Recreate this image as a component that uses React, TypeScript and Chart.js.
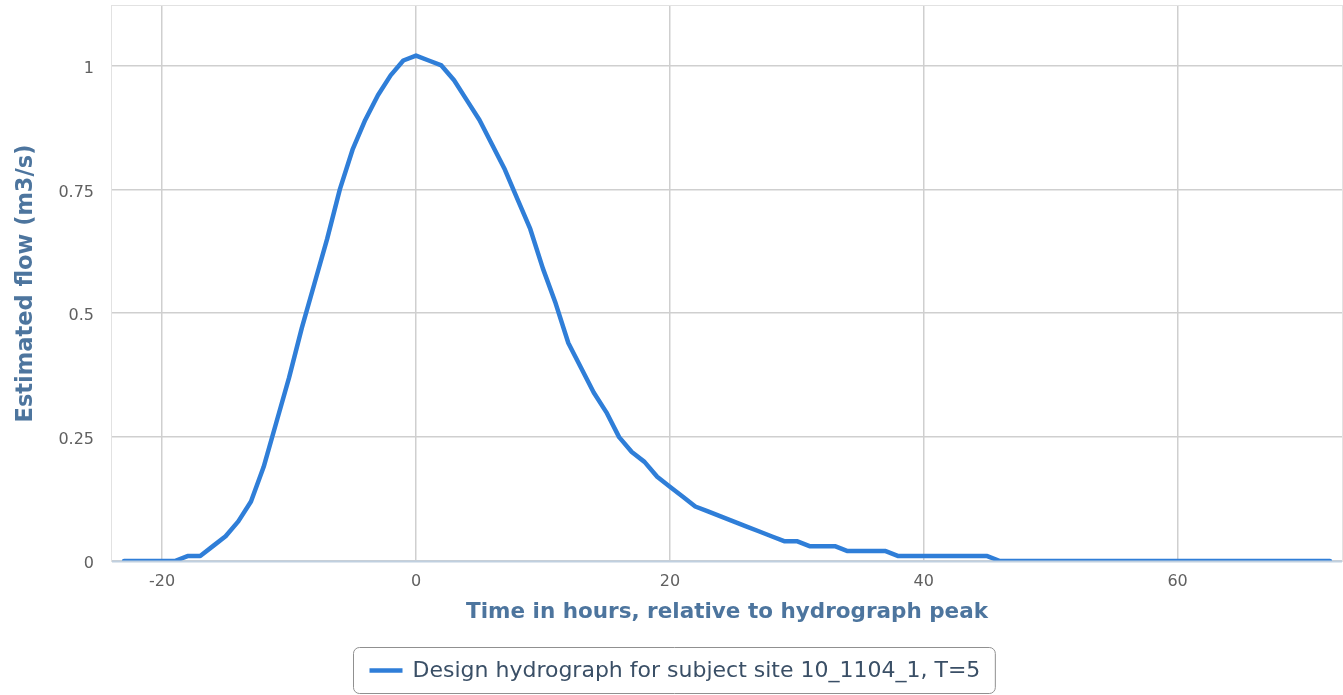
import React, { useEffect, useRef } from "react";
import { Chart, registerables } from "chart.js";

Chart.register(...registerables);

// Hours relative to the hydrograph peak
const hours = [
  -23, -22, -21, -20, -19, -18, -17, -16, -15, -14, -13, -12, -11, -10, -9, -8,
  -7, -6, -5, -4, -3, -2, -1, 0, 1, 2, 3, 4, 5, 6, 7, 8, 9, 10, 11, 12, 13, 14,
  15, 16, 17, 18, 19, 20, 21, 22, 23, 24, 25, 26, 27, 28, 29, 30, 31, 32, 33,
  34, 35, 36, 37, 38, 39, 40, 41, 42, 43, 44, 45, 46, 47, 48, 49, 50, 51, 52,
  53, 54, 55, 56, 57, 58, 59, 60, 61, 62, 63, 64, 65, 66, 67, 68, 69, 70, 71, 72,
];

// Estimated flow (m3/s)
const flow = [
  0, 0, 0, 0, 0, 0.01, 0.01, 0.03, 0.05, 0.08, 0.12, 0.19, 0.28, 0.37, 0.47, 0.56,
  0.65, 0.75, 0.83, 0.89, 0.94, 0.98, 1.01, 1.02, 1.01, 1.0, 0.97, 0.93, 0.89, 0.84,
  0.79, 0.73, 0.67, 0.59, 0.52, 0.44, 0.39, 0.34, 0.3, 0.25, 0.22, 0.2, 0.17, 0.15,
  0.13, 0.11, 0.1, 0.09, 0.08, 0.07, 0.06, 0.05, 0.04, 0.04, 0.03, 0.03, 0.03, 0.02,
  0.02, 0.02, 0.02, 0.01, 0.01, 0.01, 0.01, 0.01, 0.01, 0.01, 0.01, 0, 0, 0, 0, 0,
  0, 0, 0, 0, 0, 0, 0, 0, 0, 0, 0, 0, 0, 0, 0, 0, 0, 0, 0, 0, 0, 0,
];

const xTickValues = [-20, 0, 20, 40, 60];
const yTickValues = [0, 0.25, 0.5, 0.75, 1];

const seriesLabel = "Design hydrograph for subject site 10_1104_1, T=5";
const xTitle = "Time in hours, relative to hydrograph peak";
const yTitle = "Estimated flow (m3/s)";

const FONT = "'DejaVu Sans', Verdana, sans-serif";
const LINE_COLOR = "#2f7ed8";
const TITLE_COLOR = "#4d759e";
const TICK_COLOR = "#606060";

const plotFrame = {
  id: "plotFrame",
  beforeDatasetsDraw(chart: any) {
    const { ctx, chartArea } = chart;
    ctx.save();
    ctx.strokeStyle = "#e2e2e2";
    ctx.lineWidth = 1;
    ctx.strokeRect(
      chartArea.left - 0.5,
      chartArea.top - 0.5,
      chartArea.right - chartArea.left + 1,
      chartArea.bottom - chartArea.top + 1
    );
    ctx.restore();
  },
  afterDatasetsDraw(chart: any) {
    const { ctx, chartArea } = chart;
    ctx.save();
    ctx.strokeStyle = "#c0d0e0";
    ctx.lineWidth = 2;
    ctx.beginPath();
    ctx.moveTo(chartArea.left, chartArea.bottom + 0.5);
    ctx.lineTo(chartArea.right, chartArea.bottom + 0.5);
    ctx.stroke();
    ctx.restore();
  },
};

const boxLegend = {
  id: "boxLegend",
  afterDraw(chart: any) {
    const { ctx } = chart;
    const ds = chart.data.datasets[0];
    ctx.save();
    ctx.font = `22px ${FONT}`;
    const tw = ctx.measureText(ds.label).width;
    const padL = 16;
    const symW = 33;
    const gap = 10;
    const padR = 15;
    const boxW = padL + symW + gap + tw + padR;
    const boxH = 46;
    const cx = chart.width / 2 + 2;
    const left = Math.round(cx - boxW / 2) + 0.5;
    const top = 647.5;
    const r = 6;
    ctx.strokeStyle = "#909090";
    ctx.lineWidth = 1;
    ctx.beginPath();
    ctx.moveTo(left + r, top);
    ctx.lineTo(left + boxW - r, top);
    ctx.arcTo(left + boxW, top, left + boxW, top + r, r);
    ctx.lineTo(left + boxW, top + boxH - r);
    ctx.arcTo(left + boxW, top + boxH, left + boxW - r, top + boxH, r);
    ctx.lineTo(left + r, top + boxH);
    ctx.arcTo(left, top + boxH, left, top + boxH - r, r);
    ctx.lineTo(left, top + r);
    ctx.arcTo(left, top, left + r, top, r);
    ctx.closePath();
    ctx.stroke();
    const cy = top + boxH / 2;
    ctx.strokeStyle = ds.borderColor;
    ctx.lineWidth = 4.5;
    ctx.beginPath();
    ctx.moveTo(left + padL, cy);
    ctx.lineTo(left + padL + symW, cy);
    ctx.stroke();
    ctx.fillStyle = "#3a4f66";
    ctx.textBaseline = "middle";
    ctx.textAlign = "left";
    ctx.fillText(ds.label, left + padL + symW + gap, cy + 1);
    ctx.restore();
  },
};

export default function App() {
  const canvasRef = useRef<HTMLCanvasElement | null>(null);

  useEffect(() => {
    document.body.style.margin = "0";
    const canvas = canvasRef.current;
    if (!canvas) return;
    const points = hours.map((h, i) => ({ x: h, y: flow[i] }));
    const chart = new Chart(canvas, {
      type: "line",
      data: {
        datasets: [
          {
            label: seriesLabel,
            data: points,
            borderColor: LINE_COLOR,
            backgroundColor: LINE_COLOR,
            borderWidth: 4.5,
            pointRadius: 0,
            pointHoverRadius: 0,
            tension: 0,
            fill: false,
            clip: 0,
            borderJoinStyle: "round",
            borderCapStyle: "round",
          },
        ],
      },
      options: {
        animation: false,
        responsive: true,
        maintainAspectRatio: false,
        layout: { padding: { top: 6, right: 1, left: 0, bottom: 0 } },
        plugins: {
          legend: { display: false },
          tooltip: { enabled: false },
        },
        scales: {
          x: {
            type: "linear",
            min: -23.95,
            max: 72.95,
            afterBuildTicks: (scale: any) => {
              scale.ticks = xTickValues.map((v) => ({ value: v }));
            },
            afterFit: (scale: any) => {
              scale.height = 134;
              scale.paddingLeft = 0;
              scale.paddingRight = 0;
              scale.paddingTop = 0;
              scale.paddingBottom = 0;
            },
            grid: { color: "#cfcfcf", lineWidth: 1.5, drawTicks: false },
            border: { display: false },
            ticks: {
              color: TICK_COLOR,
              font: { family: FONT, size: 16 },
              padding: 11,
              maxRotation: 0,
              callback: (v: any) => String(v),
            },
            title: {
              display: true,
              text: xTitle,
              color: TITLE_COLOR,
              font: { family: FONT, size: 21.5, weight: "bold" },
              padding: { top: 0, bottom: 70 },
            },
          },
          y: {
            type: "linear",
            min: 0,
            max: 1.12,
            afterBuildTicks: (scale: any) => {
              scale.ticks = yTickValues.map((v) => ({ value: v }));
            },
            afterFit: (scale: any) => {
              scale.width = 112;
              scale.paddingLeft = 0;
              scale.paddingRight = 0;
              scale.paddingTop = 0;
              scale.paddingBottom = 0;
            },
            grid: { color: "#cfcfcf", lineWidth: 1.5, drawTicks: false },
            border: { display: false },
            ticks: {
              color: TICK_COLOR,
              font: { family: FONT, size: 16 },
              padding: 18,
              labelOffset: 3,
              callback: (v: any) => String(v),
            },
            title: {
              display: true,
              text: yTitle,
              color: TITLE_COLOR,
              font: { family: FONT, size: 22.5, weight: "bold" },
              padding: { top: 13, bottom: 0 },
            },
          },
        },
      },
      plugins: [plotFrame, boxLegend],
    });
    return () => chart.destroy();
  }, []);

  return (
    <div style={{ position: "fixed", left: 0, top: 0, width: 1343, height: 695 }}>
      <canvas ref={canvasRef} />
    </div>
  );
}
